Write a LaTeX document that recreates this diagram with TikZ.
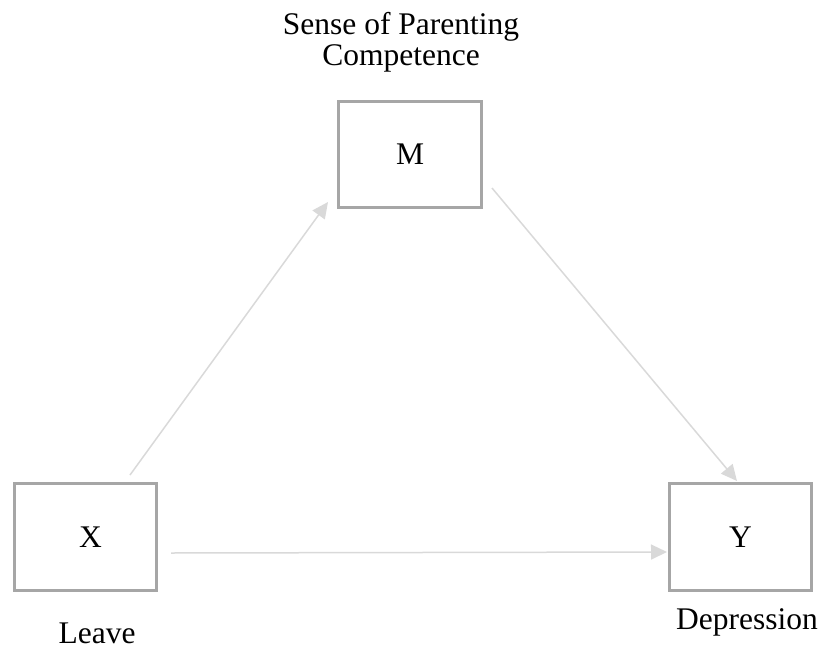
\documentclass[tikz,border=0pt]{standalone}
\usepackage{fontspec}
\setmainfont{Liberation Serif}
\usetikzlibrary{arrows.meta}
\definecolor{boxgray}{HTML}{A6A6A6}
\definecolor{arrowgray}{HTML}{D9D9D9}
\tikzset{
  varbox/.style={draw=boxgray, line width=3pt, outer sep=0pt, inner sep=0pt, fill=white},
  lbl/.style={inner sep=0pt, align=center},
  arr/.style={draw=arrowgray, line width=1.5pt, -{Triangle[length=16pt,width=15pt]}}
}
\begin{document}
\begin{tikzpicture}[x=1pt,y=-1pt, font=\fontsize{31.5}{31}\selectfont]
\useasboundingbox (0,0) rectangle (827,653);
\node[varbox, minimum width=143pt, minimum height=106pt] (M) at (410,154.5) {M};
\node[varbox, minimum width=142pt, minimum height=107pt] (X) at (85.5,537) {\hspace*{10pt}X};
\node[varbox, minimum width=142pt, minimum height=107pt] (Y) at (740.5,537) {Y};
\node[lbl] (Mlbl) at (401,42.5) {Sense of Parenting\\Competence};
\node[lbl] (Xlbl) at (97,633) {Leave};
\node[lbl] (Ylbl) at (747,622) {Depression};
\draw[arr] ([xshift=-26.5pt,yshift=8.5pt]X.north east) -- ([xshift=-10.5pt,yshift=5.5pt]M.south west);
\draw[arr] ([xshift=10.5pt,yshift=19.5pt]M.south east) -- ([xshift=-3.5pt,yshift=2.5pt]Y.north);
\draw[arr] ([xshift=14.5pt,yshift=-16pt]X.east) -- ([xshift=-2.5pt,yshift=-15pt]Y.west);
\end{tikzpicture}
\end{document}
